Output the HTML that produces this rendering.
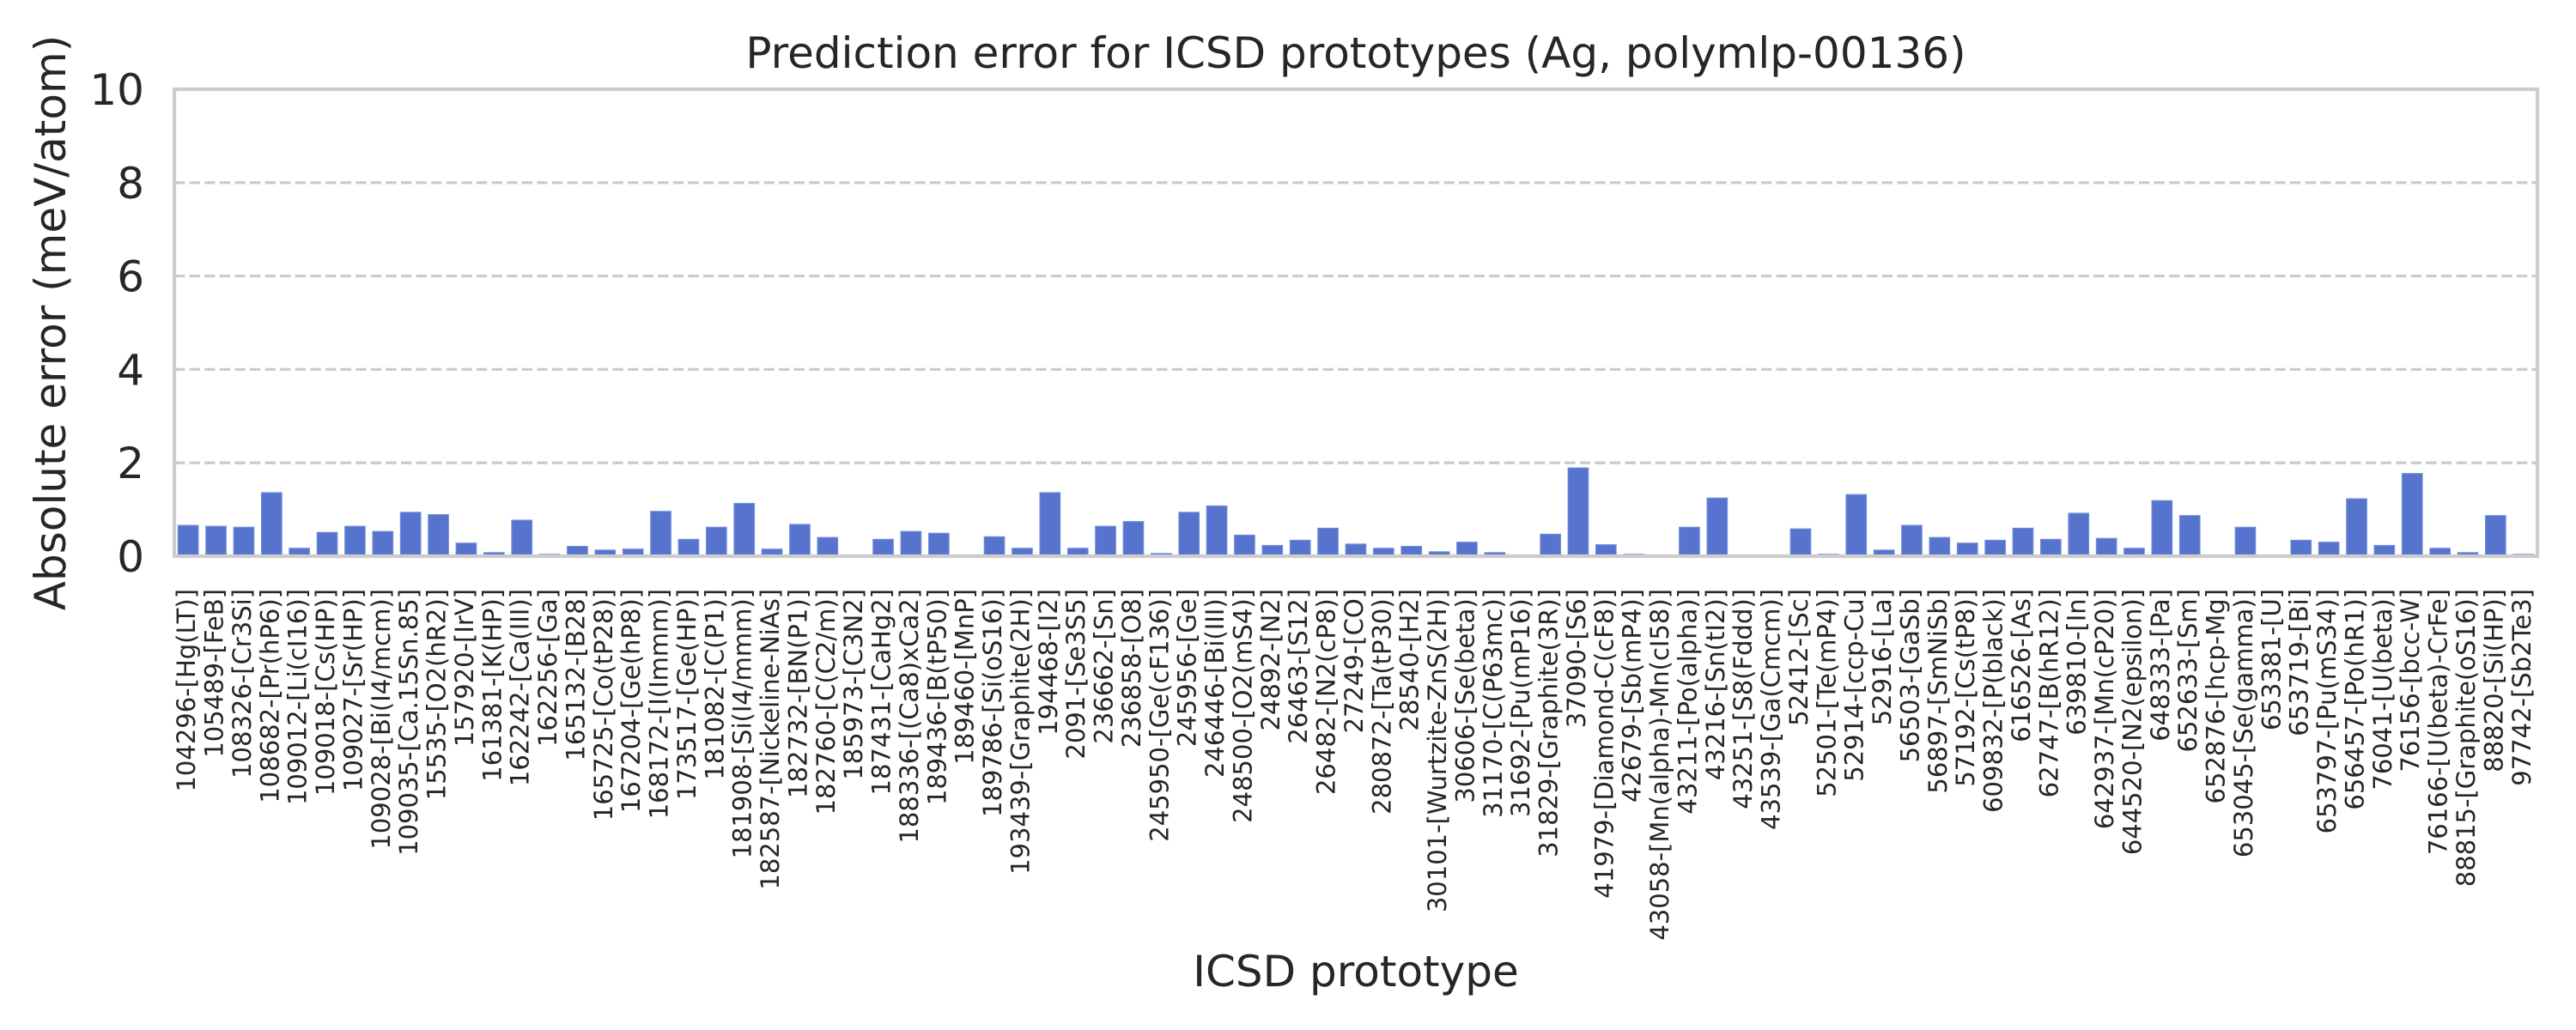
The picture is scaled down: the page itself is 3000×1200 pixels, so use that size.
<!DOCTYPE html>
<html><head><meta charset="utf-8"><style>
html,body{margin:0;padding:0;background:#fff;}
svg{display:block;}
text{font-family:"DejaVu Sans","Liberation Sans",sans-serif;fill:#262626;}
</style></head><body>
<svg width="3000" height="1200" viewBox="0 0 3000 1200" xmlns="http://www.w3.org/2000/svg">
<rect x="0" y="0" width="3000" height="1200" fill="#fff"/>
<g stroke="#cccccc" stroke-width="3.3" stroke-dasharray="12.3 5.3">
<line x1="203" y1="212.8" x2="2955" y2="212.8"/>
<line x1="203" y1="321.6" x2="2955" y2="321.6"/>
<line x1="203" y1="430.4" x2="2955" y2="430.4"/>
<line x1="203" y1="539.2" x2="2955" y2="539.2"/>
</g>
<g fill="#5674cd" stroke="#6f8ad9" stroke-width="1.2">
<rect x="207.4" y="612.1" width="23.5" height="35.9"/>
<rect x="239.8" y="613.2" width="23.5" height="34.8"/>
<rect x="272.2" y="614.3" width="23.5" height="33.7"/>
<rect x="304.6" y="574.0" width="23.5" height="74.0"/>
<rect x="336.9" y="638.8" width="23.5" height="9.2"/>
<rect x="369.3" y="620.3" width="23.5" height="27.7"/>
<rect x="401.7" y="613.2" width="23.5" height="34.8"/>
<rect x="434.1" y="619.2" width="23.5" height="28.8"/>
<rect x="466.4" y="596.9" width="23.5" height="51.1"/>
<rect x="498.8" y="599.6" width="23.5" height="48.4"/>
<rect x="531.2" y="632.8" width="23.5" height="15.2"/>
<rect x="563.6" y="643.9" width="23.5" height="4.1"/>
<rect x="596.0" y="606.1" width="23.5" height="41.9"/>
<rect x="628.3" y="645.8" width="23.5" height="2.2"/>
<rect x="660.7" y="636.6" width="23.5" height="11.4"/>
<rect x="693.1" y="640.9" width="23.5" height="7.1"/>
<rect x="725.5" y="639.8" width="23.5" height="8.2"/>
<rect x="757.8" y="595.8" width="23.5" height="52.2"/>
<rect x="790.2" y="628.4" width="23.5" height="19.6"/>
<rect x="822.6" y="614.3" width="23.5" height="33.7"/>
<rect x="855.0" y="586.5" width="23.5" height="61.5"/>
<rect x="887.3" y="639.8" width="23.5" height="8.2"/>
<rect x="919.7" y="611.0" width="23.5" height="37.0"/>
<rect x="952.1" y="626.2" width="23.5" height="21.8"/>
<rect x="1016.8" y="628.4" width="23.5" height="19.6"/>
<rect x="1049.2" y="619.2" width="23.5" height="28.8"/>
<rect x="1081.6" y="621.3" width="23.5" height="26.7"/>
<rect x="1146.3" y="625.4" width="23.5" height="22.6"/>
<rect x="1178.7" y="638.8" width="23.5" height="9.2"/>
<rect x="1211.1" y="574.0" width="23.5" height="74.0"/>
<rect x="1243.5" y="638.8" width="23.5" height="9.2"/>
<rect x="1275.8" y="613.2" width="23.5" height="34.8"/>
<rect x="1308.2" y="607.7" width="23.5" height="40.3"/>
<rect x="1340.6" y="644.9" width="23.5" height="3.1"/>
<rect x="1373.0" y="596.9" width="23.5" height="51.1"/>
<rect x="1405.3" y="589.5" width="23.5" height="58.5"/>
<rect x="1437.7" y="623.5" width="23.5" height="24.5"/>
<rect x="1470.1" y="635.5" width="23.5" height="12.5"/>
<rect x="1502.5" y="629.5" width="23.5" height="18.5"/>
<rect x="1534.8" y="615.4" width="23.5" height="32.6"/>
<rect x="1567.2" y="633.9" width="23.5" height="14.1"/>
<rect x="1599.6" y="638.8" width="23.5" height="9.2"/>
<rect x="1632.0" y="636.6" width="23.5" height="11.4"/>
<rect x="1664.4" y="642.9" width="23.5" height="5.1"/>
<rect x="1696.7" y="631.7" width="23.5" height="16.3"/>
<rect x="1729.1" y="643.9" width="23.5" height="4.1"/>
<rect x="1761.5" y="646.9" width="23.5" height="1.1"/>
<rect x="1793.9" y="622.4" width="23.5" height="25.6"/>
<rect x="1826.2" y="545.2" width="23.5" height="102.8"/>
<rect x="1858.6" y="634.7" width="23.5" height="13.3"/>
<rect x="1891.0" y="645.8" width="23.5" height="2.2"/>
<rect x="1923.4" y="646.9" width="23.5" height="1.1"/>
<rect x="1955.7" y="614.3" width="23.5" height="33.7"/>
<rect x="1988.1" y="580.3" width="23.5" height="67.7"/>
<rect x="2052.9" y="646.9" width="23.5" height="1.1"/>
<rect x="2085.2" y="616.2" width="23.5" height="31.8"/>
<rect x="2117.6" y="645.8" width="23.5" height="2.2"/>
<rect x="2150.0" y="576.2" width="23.5" height="71.8"/>
<rect x="2182.4" y="640.9" width="23.5" height="7.1"/>
<rect x="2214.7" y="612.1" width="23.5" height="35.9"/>
<rect x="2247.1" y="626.2" width="23.5" height="21.8"/>
<rect x="2279.5" y="632.8" width="23.5" height="15.2"/>
<rect x="2311.9" y="629.5" width="23.5" height="18.5"/>
<rect x="2344.2" y="615.4" width="23.5" height="32.6"/>
<rect x="2376.6" y="628.4" width="23.5" height="19.6"/>
<rect x="2409.0" y="598.0" width="23.5" height="50.0"/>
<rect x="2441.4" y="627.3" width="23.5" height="20.7"/>
<rect x="2473.7" y="638.8" width="23.5" height="9.2"/>
<rect x="2506.1" y="583.3" width="23.5" height="64.7"/>
<rect x="2538.5" y="600.7" width="23.5" height="47.3"/>
<rect x="2603.2" y="614.3" width="23.5" height="33.7"/>
<rect x="2668.0" y="629.5" width="23.5" height="18.5"/>
<rect x="2700.4" y="631.7" width="23.5" height="16.3"/>
<rect x="2732.8" y="581.1" width="23.5" height="66.9"/>
<rect x="2765.1" y="635.5" width="23.5" height="12.5"/>
<rect x="2797.5" y="551.7" width="23.5" height="96.3"/>
<rect x="2829.9" y="638.8" width="23.5" height="9.2"/>
<rect x="2862.3" y="643.9" width="23.5" height="4.1"/>
<rect x="2894.6" y="600.7" width="23.5" height="47.3"/>
<rect x="2927.0" y="645.8" width="23.5" height="2.2"/>
</g>
<rect x="203" y="104" width="2752" height="544" fill="none" stroke="#cccccc" stroke-width="4.2"/>
<g font-size="50" text-anchor="end">
<text x="168" y="666">0</text>
<text x="168" y="557.2">2</text>
<text x="168" y="448.4">4</text>
<text x="168" y="339.6">6</text>
<text x="168" y="230.8">8</text>
<text x="168" y="122">10</text>
</g>
<text x="1579" y="79" font-size="50" text-anchor="middle">Prediction error for ICSD prototypes (Ag, polymlp-00136)</text>
<text x="1579" y="1149" font-size="50" text-anchor="middle">ICSD prototype</text>
<text transform="translate(76,376) rotate(-90)" font-size="50" text-anchor="middle">Absolute error (meV/atom)</text>
<g font-size="29" text-anchor="end">
<text transform="translate(227.2,686) rotate(-90)">104296-[Hg(LT)]</text>
<text transform="translate(259.6,686) rotate(-90)">105489-[FeB]</text>
<text transform="translate(291.9,686) rotate(-90)">108326-[Cr3Si]</text>
<text transform="translate(324.3,686) rotate(-90)">108682-[Pr(hP6)]</text>
<text transform="translate(356.7,686) rotate(-90)">109012-[Li(cI16)]</text>
<text transform="translate(389.1,686) rotate(-90)">109018-[Cs(HP)]</text>
<text transform="translate(421.4,686) rotate(-90)">109027-[Sr(HP)]</text>
<text transform="translate(453.8,686) rotate(-90)">109028-[Bi(I4/mcm)]</text>
<text transform="translate(486.2,686) rotate(-90)">109035-[Ca.15Sn.85]</text>
<text transform="translate(518.6,686) rotate(-90)">15535-[O2(hR2)]</text>
<text transform="translate(550.9,686) rotate(-90)">157920-[IrV]</text>
<text transform="translate(583.3,686) rotate(-90)">161381-[K(HP)]</text>
<text transform="translate(615.7,686) rotate(-90)">162242-[Ca(III)]</text>
<text transform="translate(648.1,686) rotate(-90)">162256-[Ga]</text>
<text transform="translate(680.4,686) rotate(-90)">165132-[B28]</text>
<text transform="translate(712.8,686) rotate(-90)">165725-[Co(tP28)]</text>
<text transform="translate(745.2,686) rotate(-90)">167204-[Ge(hP8)]</text>
<text transform="translate(777.6,686) rotate(-90)">168172-[I(Immm)]</text>
<text transform="translate(810.0,686) rotate(-90)">173517-[Ge(HP)]</text>
<text transform="translate(842.3,686) rotate(-90)">181082-[C(P1)]</text>
<text transform="translate(874.7,686) rotate(-90)">181908-[Si(I4/mmm)]</text>
<text transform="translate(907.1,686) rotate(-90)">182587-[Nickeline-NiAs]</text>
<text transform="translate(939.5,686) rotate(-90)">182732-[BN(P1)]</text>
<text transform="translate(971.8,686) rotate(-90)">182760-[C(C2/m)]</text>
<text transform="translate(1004.2,686) rotate(-90)">185973-[C3N2]</text>
<text transform="translate(1036.6,686) rotate(-90)">187431-[CaHg2]</text>
<text transform="translate(1069.0,686) rotate(-90)">188336-[(Ca8)xCa2]</text>
<text transform="translate(1101.3,686) rotate(-90)">189436-[B(tP50)]</text>
<text transform="translate(1133.7,686) rotate(-90)">189460-[MnP]</text>
<text transform="translate(1166.1,686) rotate(-90)">189786-[Si(oS16)]</text>
<text transform="translate(1198.5,686) rotate(-90)">193439-[Graphite(2H)]</text>
<text transform="translate(1230.8,686) rotate(-90)">194468-[I2]</text>
<text transform="translate(1263.2,686) rotate(-90)">2091-[Se3S5]</text>
<text transform="translate(1295.6,686) rotate(-90)">236662-[Sn]</text>
<text transform="translate(1328.0,686) rotate(-90)">236858-[O8]</text>
<text transform="translate(1360.3,686) rotate(-90)">245950-[Ge(cF136)]</text>
<text transform="translate(1392.7,686) rotate(-90)">245956-[Ge]</text>
<text transform="translate(1425.1,686) rotate(-90)">246446-[Bi(III)]</text>
<text transform="translate(1457.5,686) rotate(-90)">248500-[O2(mS4)]</text>
<text transform="translate(1489.8,686) rotate(-90)">24892-[N2]</text>
<text transform="translate(1522.2,686) rotate(-90)">26463-[S12]</text>
<text transform="translate(1554.6,686) rotate(-90)">26482-[N2(cP8)]</text>
<text transform="translate(1587.0,686) rotate(-90)">27249-[CO]</text>
<text transform="translate(1619.3,686) rotate(-90)">280872-[Ta(tP30)]</text>
<text transform="translate(1651.7,686) rotate(-90)">28540-[H2]</text>
<text transform="translate(1684.1,686) rotate(-90)">30101-[Wurtzite-ZnS(2H)]</text>
<text transform="translate(1716.5,686) rotate(-90)">30606-[Se(beta)]</text>
<text transform="translate(1748.9,686) rotate(-90)">31170-[C(P63mc)]</text>
<text transform="translate(1781.2,686) rotate(-90)">31692-[Pu(mP16)]</text>
<text transform="translate(1813.6,686) rotate(-90)">31829-[Graphite(3R)]</text>
<text transform="translate(1846.0,686) rotate(-90)">37090-[S6]</text>
<text transform="translate(1878.4,686) rotate(-90)">41979-[Diamond-C(cF8)]</text>
<text transform="translate(1910.7,686) rotate(-90)">42679-[Sb(mP4)]</text>
<text transform="translate(1943.1,686) rotate(-90)">43058-[Mn(alpha)-Mn(cI58)]</text>
<text transform="translate(1975.5,686) rotate(-90)">43211-[Po(alpha)]</text>
<text transform="translate(2007.9,686) rotate(-90)">43216-[Sn(tI2)]</text>
<text transform="translate(2040.2,686) rotate(-90)">43251-[S8(Fddd)]</text>
<text transform="translate(2072.6,686) rotate(-90)">43539-[Ga(Cmcm)]</text>
<text transform="translate(2105.0,686) rotate(-90)">52412-[Sc]</text>
<text transform="translate(2137.4,686) rotate(-90)">52501-[Te(mP4)]</text>
<text transform="translate(2169.7,686) rotate(-90)">52914-[ccp-Cu]</text>
<text transform="translate(2202.1,686) rotate(-90)">52916-[La]</text>
<text transform="translate(2234.5,686) rotate(-90)">56503-[GaSb]</text>
<text transform="translate(2266.9,686) rotate(-90)">56897-[SmNiSb]</text>
<text transform="translate(2299.2,686) rotate(-90)">57192-[Cs(tP8)]</text>
<text transform="translate(2331.6,686) rotate(-90)">609832-[P(black)]</text>
<text transform="translate(2364.0,686) rotate(-90)">616526-[As]</text>
<text transform="translate(2396.4,686) rotate(-90)">62747-[B(hR12)]</text>
<text transform="translate(2428.7,686) rotate(-90)">639810-[In]</text>
<text transform="translate(2461.1,686) rotate(-90)">642937-[Mn(cP20)]</text>
<text transform="translate(2493.5,686) rotate(-90)">644520-[N2(epsilon)]</text>
<text transform="translate(2525.9,686) rotate(-90)">648333-[Pa]</text>
<text transform="translate(2558.2,686) rotate(-90)">652633-[Sm]</text>
<text transform="translate(2590.6,686) rotate(-90)">652876-[hcp-Mg]</text>
<text transform="translate(2623.0,686) rotate(-90)">653045-[Se(gamma)]</text>
<text transform="translate(2655.4,686) rotate(-90)">653381-[U]</text>
<text transform="translate(2687.7,686) rotate(-90)">653719-[Bi]</text>
<text transform="translate(2720.1,686) rotate(-90)">653797-[Pu(mS34)]</text>
<text transform="translate(2752.5,686) rotate(-90)">656457-[Po(hR1)]</text>
<text transform="translate(2784.9,686) rotate(-90)">76041-[U(beta)]</text>
<text transform="translate(2817.2,686) rotate(-90)">76156-[bcc-W]</text>
<text transform="translate(2849.6,686) rotate(-90)">76166-[U(beta)-CrFe]</text>
<text transform="translate(2882.0,686) rotate(-90)">88815-[Graphite(oS16)]</text>
<text transform="translate(2914.4,686) rotate(-90)">88820-[Si(HP)]</text>
<text transform="translate(2946.8,686) rotate(-90)">97742-[Sb2Te3]</text>
</g>
</svg>
</body></html>
